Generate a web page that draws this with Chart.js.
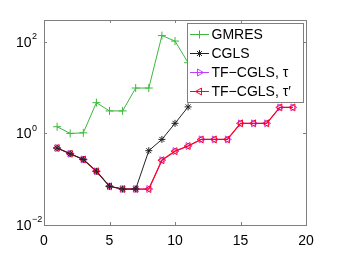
<!DOCTYPE html>
<html>
<head>
<meta charset="utf-8">
<script src="https://cdn.jsdelivr.net/npm/chart.js@4.4.1/dist/chart.umd.min.js"></script>
<style>
  body { margin: 0; background: #fff; }
  canvas { display: block; }
</style>
</head>
<body>
<canvas id="chart" width="338" height="254"></canvas>
<script>
// values (log y axis)
var iterations = [1, 2, 3, 4, 5, 6, 7, 8, 9, 10, 11, 12, 13, 14, 15, 16, 17, 18, 19];
var gmres = [1.4, 1.0, 1.03, 4.7, 3.1, 3.1, 9.8, 9.8, 137, 104, 35];
var cgls = [0.48, 0.36, 0.27, 0.149, 0.070, 0.061, 0.061, 0.42, 0.74, 1.66, 3.8];
var tfTau = [0.48, 0.36, 0.27, 0.149, 0.070, 0.061, 0.061, 0.061, 0.26, 0.41, 0.53, 0.74, 0.74, 0.74, 1.66, 1.66, 1.66, 3.7, 3.7];
var tfTauPrime = [0.48, 0.36, 0.27, 0.149, 0.070, 0.061, 0.061, 0.061, 0.26, 0.41, 0.53, 0.74, 0.74, 0.74, 1.66, 1.66, 1.66, 3.7, 3.7];
var xTicks = [0, 5, 10, 15, 20];
var yTicks = [0.01, 1, 100];
var yTickExp = ['\u22122', '0', '2'];

var FONT = '"Liberation Sans", Arial, sans-serif';

function pts(vals) {
  var out = [];
  for (var i = 0; i < vals.length; i++) out.push({x: iterations[i], y: vals[i]});
  return out;
}

// frame, inward ticks, y labels with superscripts, legend box
var framePlugin = {
  id: 'frame',
  afterDraw: function (chart) {
    var ctx = chart.ctx;
    var a = chart.chartArea;
    var xs = chart.scales.x, ys = chart.scales.y;
    ctx.save();
    ctx.strokeStyle = '#7f7f7f';
    ctx.lineWidth = 1;
    ctx.strokeRect(Math.round(a.left) + 0.5, Math.round(a.top) + 0.5,
      Math.round(a.right - a.left), Math.round(a.bottom - a.top));
    ctx.beginPath();
    xTicks.forEach(function (v) {
      var px = Math.round(xs.getPixelForValue(v)) + 0.5;
      ctx.moveTo(px, a.bottom); ctx.lineTo(px, a.bottom - 3);
      ctx.moveTo(px, a.top); ctx.lineTo(px, a.top + 3);
    });
    yTicks.forEach(function (v) {
      var py = Math.round(ys.getPixelForValue(v)) + 0.5;
      ctx.moveTo(a.left, py); ctx.lineTo(a.left + 3, py);
      ctx.moveTo(a.right, py); ctx.lineTo(a.right - 3, py);
    });
    ctx.stroke();

    ctx.fillStyle = '#000';
    yTicks.forEach(function (v, i) {
      var py = ys.getPixelForValue(v);
      ctx.font = '14px ' + FONT;
      ctx.textAlign = 'right';
      ctx.textBaseline = 'middle';
      ctx.fillText('10', 31.5, py + 1);
      ctx.font = '9px ' + FONT;
      ctx.textAlign = 'left';
      ctx.fillText(yTickExp[i], 32, py - 5);
    });

    // legend
    var lx = 187.5, ly = 23.5, lw = 116, lh = 79;
    ctx.fillStyle = '#fff';
    ctx.fillRect(lx, ly, lw, lh);
    ctx.strokeStyle = '#7f7f7f';
    ctx.strokeRect(lx, ly, lw, lh);
    chart.data.datasets.forEach(function (ds, i) {
      var y = 34.5 + i * 19;
      ctx.strokeStyle = ds.borderColor;
      ctx.lineWidth = 1;
      ctx.beginPath();
      ctx.moveTo(190, y); ctx.lineTo(209, y);
      ctx.stroke();
      ctx.fillStyle = ds.pointBackgroundColor;
      Chart.helpers.drawPoint(ctx, {
        pointStyle: ds.pointStyle, radius: ds.pointRadius,
        rotation: ds.pointRotation || 0, borderWidth: 1
      }, 199.5, y);
      ctx.fillStyle = '#000';
      ctx.font = '14px ' + FONT;
      ctx.textAlign = 'left';
      ctx.textBaseline = 'middle';
      ctx.fillText(ds.label, 211.5, y + 1);
    });
    ctx.restore();
  }
};

new Chart(document.getElementById('chart'), {
  type: 'line',
  data: {
    datasets: [
      {
        label: 'GMRES', data: pts(gmres), order: 3,
        borderColor: '#3cb83c', pointBackgroundColor: 'rgba(0,0,0,0)',
        pointBorderColor: '#3cb83c', pointStyle: 'cross', pointRadius: 4,
        borderWidth: 1, pointBorderWidth: 1
      },
      {
        label: 'CGLS', data: pts(cgls), order: 0,
        borderColor: '#222222', pointBackgroundColor: 'rgba(0,0,0,0)',
        pointBorderColor: '#222222', pointStyle: 'star', pointRadius: 3.5,
        borderWidth: 1, pointBorderWidth: 1
      },
      {
        label: 'TF\u2212CGLS, \u03c4', data: pts(tfTau), order: 2,
        borderColor: '#c040ff', pointBackgroundColor: 'rgba(0,0,0,0)',
        pointBorderColor: '#c040ff', pointStyle: 'triangle', pointRotation: 90,
        pointRadius: 4, borderWidth: 1, pointBorderWidth: 1
      },
      {
        label: 'TF\u2212CGLS, \u03c4\u2032', data: pts(tfTauPrime), order: 1,
        borderColor: '#ff0022', pointBackgroundColor: 'rgba(0,0,0,0)',
        pointBorderColor: '#ff0022', pointStyle: 'triangle', pointRotation: -90,
        pointRadius: 4, borderWidth: 1.2, pointBorderWidth: 1
      }
    ]
  },
  options: {
    responsive: false,
    animation: false,
    layout: { padding: { left: 0, right: 32, top: 20, bottom: 0 } },
    plugins: { legend: { display: false }, tooltip: { enabled: false } },
    elements: { line: { tension: 0 } },
    scales: {
      x: {
        type: 'linear', min: 0, max: 20,
        grid: { display: false }, border: { display: false },
        ticks: { stepSize: 5, color: '#000', font: { size: 14, family: FONT }, padding: 0, maxRotation: 0 },
        afterFit: function (s) { s.height = 29; }
      },
      y: {
        type: 'logarithmic', min: 0.01, max: 300,
        grid: { display: false }, border: { display: false },
        ticks: { display: false },
        afterFit: function (s) { s.width = 44; }
      }
    }
  },
  plugins: [framePlugin]
});
</script>
</body>
</html>
